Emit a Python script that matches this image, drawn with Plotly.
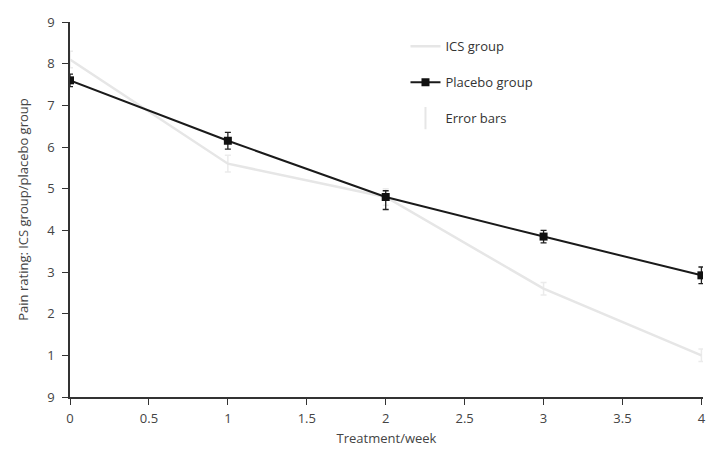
import plotly.graph_objects as go

weeks = [0, 1, 2, 3, 4]
ics_values = [8.1, 5.6, 4.8, 2.6, 1.0]
ics_err = [0.2, 0.2, 0.2, 0.15, 0.15]
placebo_values = [7.6, 6.15, 4.8, 3.85, 2.92]
placebo_err_plus = [0.15, 0.2, 0.15, 0.15, 0.2]
placebo_err_minus = [0.15, 0.2, 0.3, 0.15, 0.2]

x_ticks = [0, 0.5, 1, 1.5, 2, 2.5, 3, 3.5, 4]
x_tick_labels = ["0", "0.5", "1", "1.5", "2", "2.5", "3", "3.5", "4"]
y_ticks = [0, 1, 2, 3, 4, 5, 6, 7, 8, 9]
y_tick_labels = ["9", "1", "2", "3", "4", "5", "6", "7", "8", "9"]

fig = go.Figure()
fig.add_trace(go.Scatter(
    x=weeks, y=ics_values, mode="lines", name="ICS group",
    line=dict(color="#e6e6e6", width=2.5),
    error_y=dict(type="data", array=ics_err, color="#ebebeb", thickness=1.5, width=3),
    legendgroup="a",
))
fig.add_trace(go.Scatter(
    x=weeks, y=placebo_values, mode="lines+markers", name="Placebo group",
    line=dict(color="#1a1a1a", width=2),
    marker=dict(symbol="square", size=8, color="#111111"),
    error_y=dict(type="data", symmetric=False, array=placebo_err_plus,
                 arrayminus=placebo_err_minus, color="#222222", thickness=1.3, width=3),
    legendgroup="b",
))
fig.add_trace(go.Scatter(
    x=[None], y=[None], mode="markers", name="Error bars",
    marker=dict(symbol="line-ns-open", size=16, color="#e6e6e6", line=dict(width=2, color="#e6e6e6")),
    legendgroup="c",
))

fig.update_layout(
    width=717, height=455,
    margin=dict(l=70, r=11, t=22, b=58),
    paper_bgcolor="white", plot_bgcolor="white",
    font=dict(family="Open Sans, DejaVu Sans, sans-serif", size=13, color="#444444"),
    showlegend=True,
    legend=dict(x=0.53, y=0.975, xanchor="left", yanchor="top",
                font=dict(size=13, color="#333333"), tracegroupgap=16,
                bgcolor="rgba(0,0,0,0)"),
    xaxis=dict(range=[0, 4.01], tickvals=x_ticks, ticktext=x_tick_labels,
               showgrid=False, zeroline=False, showline=True, linecolor="#333333",
               linewidth=1.5, ticks="outside", ticklen=6, tickcolor="#333333",
               ticklabelstandoff=3,
               title=dict(text="Treatment/week", font=dict(size=13, color="#444444"), standoff=8)),
    yaxis=dict(range=[0, 9], tickvals=y_ticks, ticktext=y_tick_labels,
               showgrid=False, zeroline=False, showline=True, linecolor="#333333",
               linewidth=1.5, ticks="outside", ticklen=6, tickcolor="#333333",
               ticklabelstandoff=5,
               title=dict(text="Pain rating: ICS group/placebo group", font=dict(size=13, color="#444444"), standoff=16)),
)

fig.write_html("out.html")
